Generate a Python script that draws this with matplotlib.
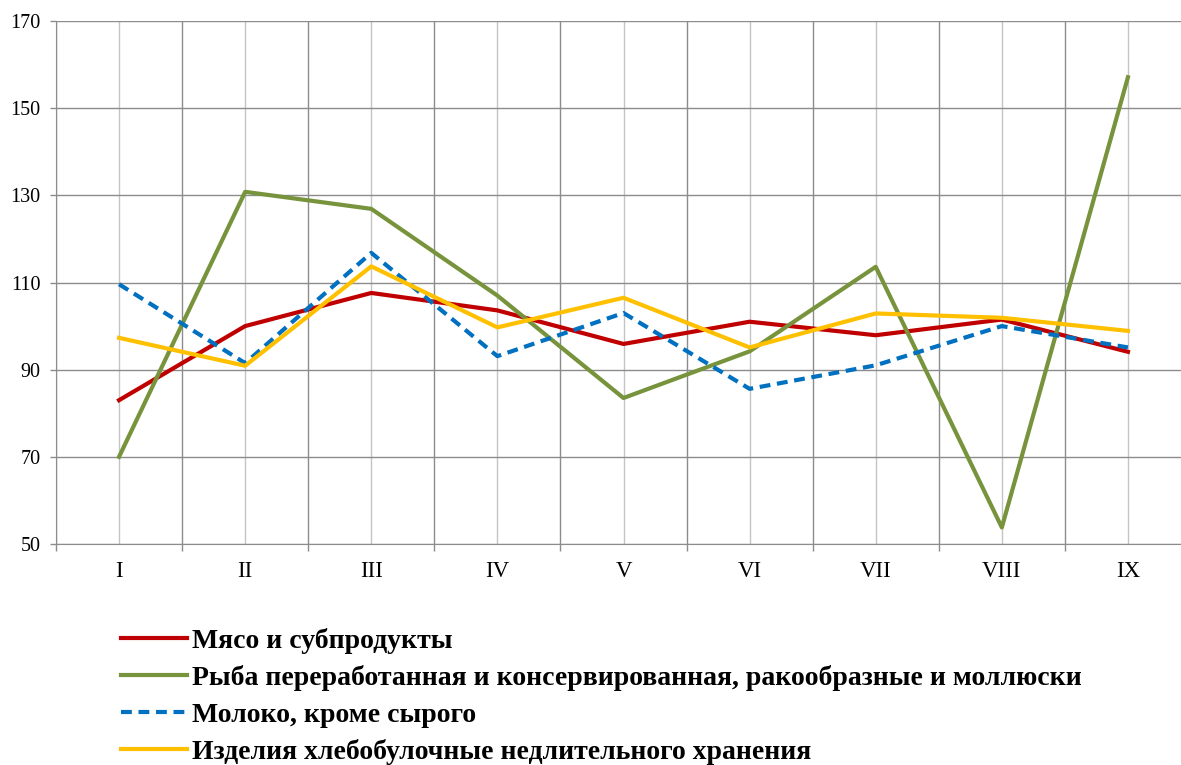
import matplotlib

matplotlib.use("Agg")
import matplotlib.pyplot as plt
from matplotlib.ticker import FixedLocator, NullFormatter

months = ["I", "II", "III", "IV", "V", "VI", "VII", "VIII", "IX"]

meat = [83.0, 100.0, 107.6, 103.6, 95.9, 101.0, 97.9, 101.5, 94.1]
fish = [70.0, 130.8, 126.9, 107.0, 83.5, 94.2, 113.6, 53.8, 157.1]
milk = [109.6, 91.5, 116.8, 93.1, 103.0, 85.6, 91.0, 100.0, 95.1]
bread = [97.3, 90.9, 113.7, 99.7, 106.5, 95.1, 102.9, 101.9, 98.9]

labels = [
    "Мясо и субпродукты",
    "Рыба переработанная и консервированная, ракообразные и моллюски",
    "Молоко, кроме сырого",
    "Изделия хлебобулочные недлительного хранения",
]

plt.rcParams["font.family"] = ["Liberation Serif", "DejaVu Serif"]

fig = plt.figure(figsize=(11.81, 7.65), dpi=100)
# the plot area runs a little past the right edge of the picture, as in the source
ax = fig.add_axes([56 / 1181, 221 / 765, 1135 / 1181, 523 / 765])

x = list(range(len(months)))
ax.plot(x, meat, color="#C00000", lw=3, label=labels[0], zorder=3)
ax.plot(x, fish, color="#77933C", lw=3, label=labels[1], zorder=3)
ax.plot(x, milk, color="#0070C0", lw=3, ls=(0, (2.6, 1.6)), label=labels[2], zorder=3)
ax.plot(x, bread, color="#FFC000", lw=3, label=labels[3], zorder=3)

ax.set_xlim(-0.5, 8.5)
ax.set_ylim(50, 170)
ax.set_yticks(range(50, 171, 20))

# boundaries between categories carry the tick marks, category centres carry the labels
ax.xaxis.set_major_locator(FixedLocator([i - 0.5 for i in range(len(months) + 1)]))
ax.xaxis.set_major_formatter(NullFormatter())
ax.xaxis.set_minor_locator(FixedLocator(x))
ax.set_xticklabels(months, minor=True)

ax.tick_params(axis="x", which="major", length=5, width=1, color="#8c8c8c")
ax.tick_params(axis="x", which="minor", length=0, pad=12.5, labelsize=16.5)
ax.tick_params(axis="y", length=4.3, width=1, color="#8c8c8c", pad=7, labelsize=14.5)

ax.grid(True, which="major", axis="both", color="#8c8c8c", lw=1)
ax.grid(True, which="minor", axis="x", color="#c4c4c4", lw=1)
ax.set_axisbelow(True)

for side in ["top", "right"]:
    ax.spines[side].set_visible(False)
for side in ["left", "bottom"]:
    ax.spines[side].set_color("#8c8c8c")

fig.legend(
    loc="upper left",
    bbox_to_anchor=(121 / 1181, 1 - 628 / 765),
    frameon=False,
    prop={"family": ["Liberation Serif", "DejaVu Serif"], "weight": "bold", "size": 20},
    handlelength=2.37,
    handletextpad=0.18,
    labelspacing=0.4,
    borderaxespad=0,
    borderpad=0,
)

fig.savefig("out.png", dpi=100)
